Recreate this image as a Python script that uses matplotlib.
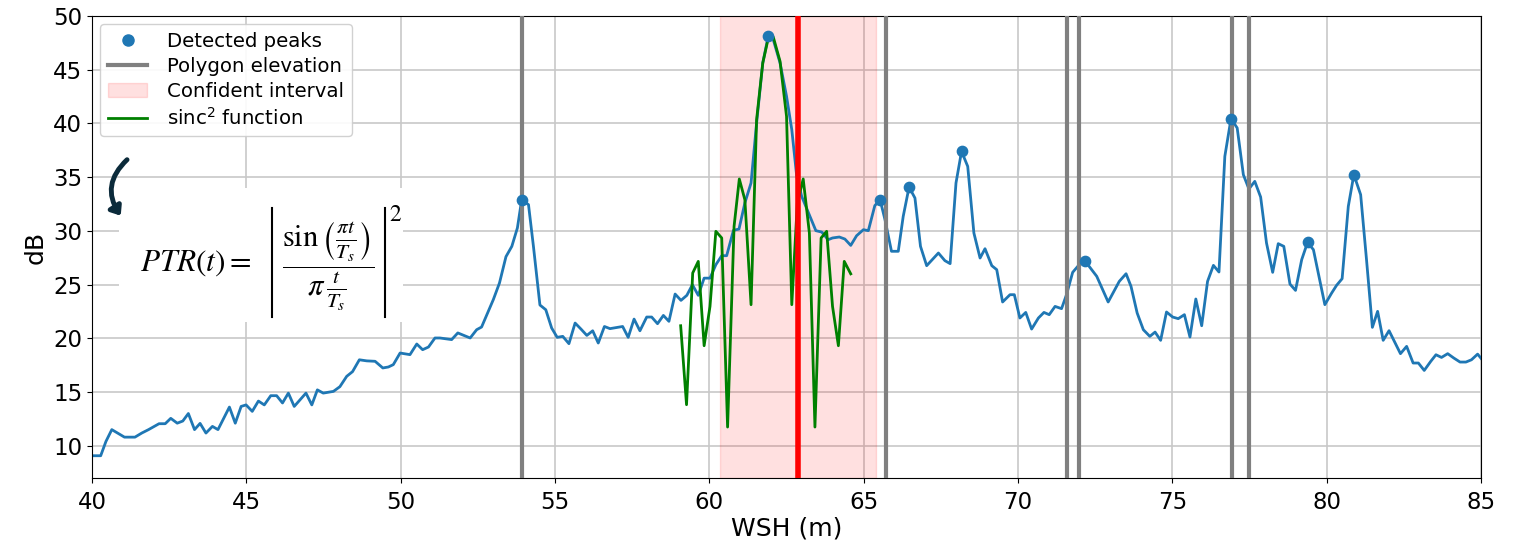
import matplotlib.pyplot as plt
from matplotlib.lines import Line2D
from matplotlib.patches import Patch, Rectangle

# waveform (dB) vs water surface height
wsh = [40.0, 40.28, 40.45, 40.64, 41.05, 41.39, 41.61, 41.83, 42.17, 42.37,
       42.55, 42.76, 42.94, 43.12, 43.32, 43.5, 43.69, 43.9, 44.08, 44.45,
       44.64, 44.83, 44.99, 45.19, 45.39, 45.58, 45.79, 45.98, 46.17, 46.36,
       46.55, 46.93, 47.12, 47.3, 47.49, 47.82, 48.03, 48.25, 48.44, 48.66,
       48.9, 49.17, 49.42, 49.6, 49.76, 49.98, 50.3, 50.52, 50.71, 50.9,
       51.11, 51.27, 51.65, 51.85, 52.25, 52.46, 52.62, 53.0, 53.2, 53.41,
       53.6, 53.78, 53.92, 54.14, 54.3, 54.51, 54.7, 54.89, 55.07, 55.25,
       55.45, 55.65, 55.84, 56.03, 56.22, 56.4, 56.6, 56.78, 57.19, 57.37,
       57.56, 57.75, 57.97, 58.13, 58.32, 58.51, 58.69, 58.89, 59.08, 59.27,
       59.45, 59.64, 59.83, 60.02, 60.21, 60.4, 60.56, 60.78, 60.96, 61.15,
       61.35, 61.53, 61.73, 61.91, 62.07, 62.29, 62.5, 62.67, 62.83, 62.99,
       63.26, 63.45, 63.64, 63.85, 63.99, 64.21, 64.39, 64.58, 64.77, 64.99,
       65.15, 65.36, 65.53, 65.69, 65.9, 66.12, 66.28, 66.47, 66.66, 66.84,
       67.04, 67.42, 67.63, 67.8, 67.99, 68.17, 68.37, 68.57, 68.77, 68.93,
       69.15, 69.31, 69.5, 69.74, 69.88, 70.06, 70.25, 70.44, 70.66, 70.84,
       71.01, 71.2, 71.41, 71.57, 71.77, 71.98, 72.17, 72.55, 72.92, 73.28,
       73.5, 73.66, 73.86, 74.06, 74.27, 74.44, 74.62, 74.81, 75.01, 75.19,
       75.39, 75.57, 75.76, 75.95, 76.14, 76.33, 76.51, 76.7, 76.9, 77.1,
       77.3, 77.48, 77.67, 77.86, 78.05, 78.25, 78.43, 78.61, 78.81, 78.99,
       79.19, 79.38, 79.57, 79.94, 80.16, 80.32, 80.5, 80.7, 80.88, 81.1,
       81.29, 81.48, 81.65, 81.83, 82.02, 82.21, 82.39, 82.59, 82.8, 82.97,
       83.16, 83.37, 83.54, 83.72, 83.92, 84.12, 84.32, 84.51, 84.69, 84.89,
       85.02]
db = [9.07, 9.07, 10.4, 11.5, 10.8, 10.8, 11.18, 11.5, 12.05, 12.05,
      12.55, 12.1, 12.3, 13.0, 11.5, 12.08, 11.18, 11.8, 11.5, 13.6,
      12.1, 13.66, 13.8, 13.2, 14.16, 13.8, 14.66, 14.66, 13.98, 14.9,
      13.66, 14.9, 13.8, 15.2, 14.9, 15.06, 15.5, 16.46, 16.9, 18.0,
      17.9, 17.86, 17.24, 17.33, 17.55, 18.63, 18.48, 19.47, 18.94, 19.19,
      20.03, 20.03, 19.88, 20.5, 20.03, 20.8, 21.05, 23.6, 25.15, 27.6,
      28.56, 30.27, 32.9, 32.44, 28.56, 23.1, 22.66, 20.96, 20.09, 20.18,
      19.5, 21.42, 20.86, 20.27, 20.7, 19.56, 21.1, 20.9, 21.1, 20.09,
      21.79, 20.7, 21.98, 21.98, 21.36, 22.13, 21.58, 24.12, 23.53, 24.0,
      24.99, 24.0, 25.6, 25.6, 26.85, 27.69, 27.69, 30.05, 30.17, 32.6,
      34.46, 40.04, 45.63, 48.17, 47.8, 45.63, 42.53, 39.42, 35.08, 33.22,
      31.35, 30.02, 29.89, 29.18, 29.34, 29.43, 29.24, 28.65, 29.55, 30.11,
      30.02, 32.35, 32.9, 31.04, 28.1, 28.1, 31.35, 34.08, 33.06, 28.56,
      26.76, 27.94, 27.23, 26.95, 34.46, 37.4, 36.0, 29.8, 27.47, 28.34,
      26.76, 26.39, 23.38, 24.06, 24.06, 21.89, 22.41, 20.86, 21.89, 22.41,
      22.2, 22.97, 22.76, 24.06, 26.14, 26.85, 27.2, 25.77, 23.38, 25.3,
      26.01, 24.84, 22.35, 20.8, 20.18, 20.58, 19.81, 22.45, 21.98, 21.83,
      22.2, 20.12, 23.66, 21.17, 25.3, 26.79, 26.17, 36.94, 40.45, 39.58,
      35.23, 33.9, 34.61, 33.15, 28.87, 26.14, 28.81, 28.56, 25.05, 24.46,
      27.32, 28.93, 28.25, 23.13, 24.21, 24.93, 25.55, 32.28, 35.23, 33.37,
      27.32, 21.02, 22.51, 19.81, 20.71, 19.62, 18.57, 19.25, 17.7, 17.7,
      17.01, 17.85, 18.47, 18.22, 18.57, 18.16, 17.79, 17.79, 18.0, 18.53,
      18.07]

peak_x = [53.92, 61.91, 65.53, 66.47, 68.17, 72.17, 76.9, 79.38, 80.88]
peak_y = [32.9, 48.17, 32.9, 34.08, 37.4, 27.2, 40.45, 28.93, 35.23]

# fitted sinc^2 (dB)
sinc_x = [59.07, 59.26, 59.46, 59.64, 59.83, 60.02, 60.21, 60.4, 60.59, 60.8,
          60.97, 61.15, 61.35, 61.53, 61.73, 61.91, 62.07, 62.29, 62.5, 62.67,
          62.85, 63.04, 63.24, 63.42, 63.62, 63.8, 63.99, 64.18, 64.37, 64.58]
sinc_y = [21.17, 13.82, 26.08, 27.16, 19.31, 22.97, 29.96, 29.34, 11.74, 30.42,
          34.83, 32.9, 23.13, 40.35, 45.63, 47.96, 48.05, 45.78, 40.66, 23.13,
          32.6, 34.83, 29.8, 11.74, 29.34, 29.96, 22.97, 19.31, 27.16, 26.0]

polygon_elev = [53.94, 65.72, 71.6, 71.98, 76.92, 77.48]
estimated_wsh = 62.87
conf_low, conf_high = 60.34, 65.39

fig = plt.figure(figsize=(15.19, 5.45), dpi=100)
ax = fig.add_axes([0.0606, 0.123, 0.9144, 0.8476])

ax.axvspan(conf_low, conf_high, color='red', alpha=0.12, zorder=1)
ax.plot(wsh, db, color='#1f77b4', lw=2, zorder=2)
ax.plot(sinc_x, sinc_y, color='green', lw=2, zorder=3)
for xv in polygon_elev:
    ax.axvline(xv, color='gray', lw=3, zorder=4)
ax.axvline(estimated_wsh, color='red', lw=4, zorder=5)
ax.scatter(peak_x, peak_y, color='#1f77b4', s=55, zorder=6)

ax.set_xlim(40, 85)
ax.set_ylim(7, 50)
ax.set_yticks([10, 15, 20, 25, 30, 35, 40, 45, 50])
ax.grid(True, color='#c8c8c8', lw=1.2)
ax.set_axisbelow(True)
ax.tick_params(labelsize=16.5)
ax.tick_params(axis='x', pad=6)
ax.set_xlabel('WSH (m)', fontsize=18, labelpad=2)
ax.set_ylabel('dB', fontsize=18, labelpad=4)

handles = [
    Line2D([], [], marker='o', ls='none', color='#1f77b4', markersize=8),
    Line2D([], [], color='gray', lw=3),
    Patch(facecolor='red', edgecolor='red', alpha=0.12),
    Line2D([], [], color='green', lw=2),
]
labels = ['Detected peaks', 'Polygon elevation', 'Confident interval', 'sinc$^2$ function']
ax.legend(handles, labels, loc='upper left', fontsize=14.2, framealpha=0.9,
          borderaxespad=0.4, handletextpad=1.0, labelspacing=0.3)

# formula panel (pasted equation)
ax.add_patch(Rectangle((40.87, 21.55), 9.2, 12.45, facecolor='white',
                       edgecolor='none', zorder=7))
ax.text(43.37, 27.0, r'$PTR(t) =$', fontsize=22.5, ha='center', va='center',
        math_fontfamily='stix', zorder=8)
ax.text(47.66, 26.75,
        r'$\dfrac{\sin\left(\frac{\pi t}{T_s}\right)}{\pi\,\frac{t}{T_s}}$',
        fontsize=22, ha='center', va='center', math_fontfamily='stix', zorder=8)
for xb in (45.83, 49.49):
    ax.plot([xb, xb], [22.0, 32.15], color='black', lw=1.5, zorder=8)
ax.text(49.62, 32.7, r'$2$', fontsize=17, ha='left', va='top',
        math_fontfamily='stix', zorder=8)
ax.annotate('', xy=(40.98, 31.2), xytext=(41.2, 36.8),
            arrowprops=dict(arrowstyle='-|>,head_width=0.4,head_length=0.5',
                            connectionstyle='arc3,rad=0.45', lw=3.5,
                            color='#0b2a3a'), zorder=8)

fig.savefig('out.png', dpi=100)
